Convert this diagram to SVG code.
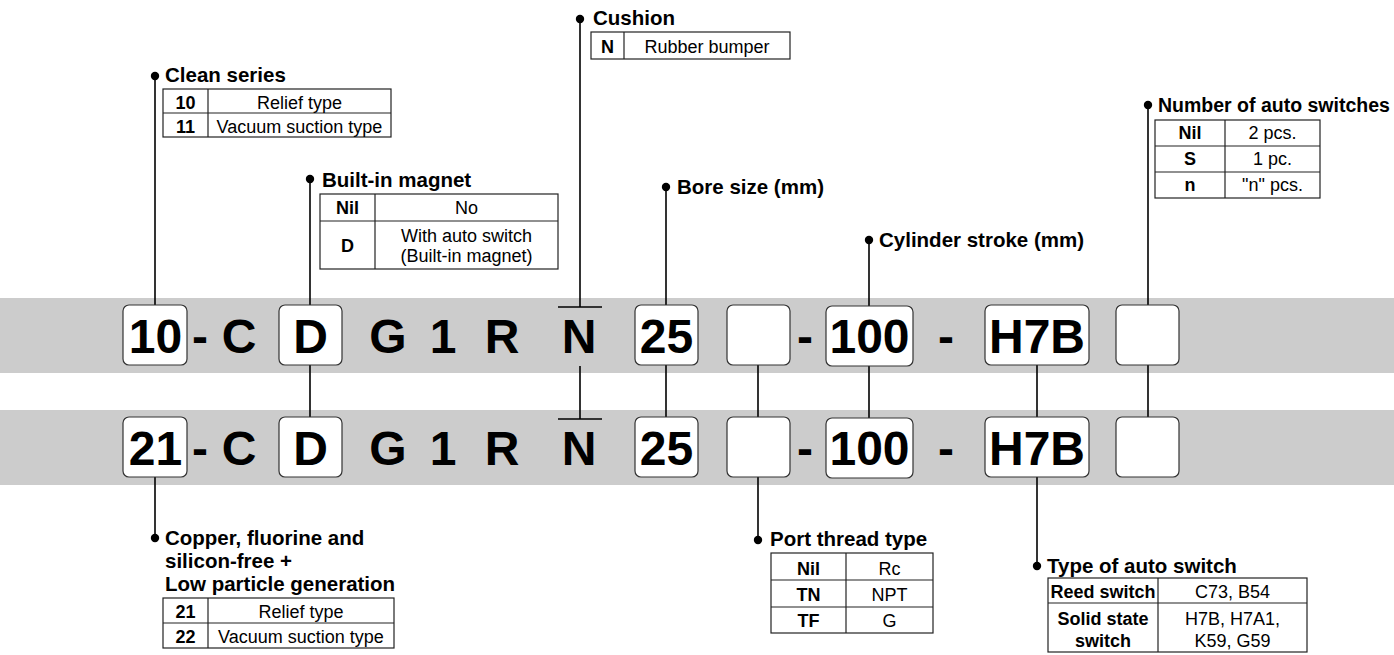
<svg xmlns="http://www.w3.org/2000/svg" width="1394" height="655" viewBox="0 0 1394 655">
<style>
  .band{fill:#cccccc}
  .box{fill:#ffffff;stroke:#333333;stroke-width:1.2}
  .big{font-family:"Liberation Sans",Arial,Helvetica,sans-serif;font-weight:bold;font-size:48px;fill:#000;text-anchor:middle}
  .hd{font-family:"Liberation Sans",Arial,Helvetica,sans-serif;font-weight:bold;font-size:20.5px;fill:#000}
  .tb{font-family:"Liberation Sans",Arial,Helvetica,sans-serif;font-size:18px;fill:#000;text-anchor:middle}
  .tbb{font-family:"Liberation Sans",Arial,Helvetica,sans-serif;font-size:18px;font-weight:bold;fill:#000;text-anchor:middle}
  .tab{fill:#ffffff;stroke:#222222;stroke-width:1.2}
  .tl{stroke:#222222;stroke-width:1.2;fill:none}
  .cn{stroke:#000000;stroke-width:1.6;fill:none}
  .dot{fill:#000000}
</style>

<!-- bands -->
<rect class="band" x="0" y="298" width="1394" height="75"/>
<rect class="band" x="0" y="410" width="1394" height="75"/>

<!-- connectors -->
<g id="connectors">
  <line class="cn" x1="155" y1="76" x2="155" y2="305"/>
  <line class="cn" x1="310" y1="179" x2="310" y2="305"/>
  <line class="cn" x1="580" y1="19" x2="580" y2="307"/>
  <line class="cn" x1="558" y1="307" x2="602" y2="307"/>
  <line class="cn" x1="666" y1="187" x2="666" y2="305"/>
  <line class="cn" x1="869" y1="240" x2="869" y2="306"/>
  <line class="cn" x1="1148" y1="105" x2="1148" y2="305"/>

  <line class="cn" x1="310" y1="365" x2="310" y2="417"/>
  <line class="cn" x1="580" y1="366" x2="580" y2="419"/>
  <line class="cn" x1="558" y1="419" x2="602" y2="419"/>
  <line class="cn" x1="666" y1="365" x2="666" y2="417"/>
  <line class="cn" x1="758" y1="365" x2="758" y2="417"/>
  <line class="cn" x1="869" y1="366" x2="869" y2="418"/>
  <line class="cn" x1="1037" y1="365" x2="1037" y2="417"/>
  <line class="cn" x1="1148" y1="365" x2="1148" y2="417"/>

  <line class="cn" x1="155" y1="477" x2="155" y2="538"/>
  <line class="cn" x1="758" y1="477" x2="758" y2="540"/>
  <line class="cn" x1="1037" y1="477" x2="1037" y2="566"/>

  <circle class="dot" cx="155" cy="76" r="4.2"/>
  <circle class="dot" cx="310" cy="179" r="4.2"/>
  <circle class="dot" cx="580" cy="19" r="4.2"/>
  <circle class="dot" cx="666" cy="187" r="4.2"/>
  <circle class="dot" cx="869" cy="240" r="4.2"/>
  <circle class="dot" cx="1148" cy="105" r="4.2"/>
  <circle class="dot" cx="155" cy="538" r="4.2"/>
  <circle class="dot" cx="758" cy="540" r="4.2"/>
  <circle class="dot" cx="1037" cy="566" r="4.2"/>
</g>

<!-- band 1 -->
<g id="row1">
  <rect class="box" x="123" y="305" width="64" height="60" rx="6"/>
  <rect class="box" x="279" y="305" width="63" height="60" rx="6"/>
  <rect class="box" x="635" y="305" width="63" height="60" rx="6"/>
  <rect class="box" x="727" y="305" width="63" height="60" rx="6"/>
  <rect class="box" x="826" y="306" width="87" height="60" rx="6"/>
  <rect class="box" x="985" y="305" width="104" height="60" rx="6"/>
  <rect class="box" x="1116" y="305" width="63" height="60" rx="6"/>
  <text class="big" x="155.5" y="353">10</text>
  <text class="big" x="200" y="353">-</text>
  <text class="big" x="239" y="353">C</text>
  <text class="big" x="310.5" y="353">D</text>
  <text class="big" x="388" y="353">G</text>
  <text class="big" x="443" y="353">1</text>
  <text class="big" x="502" y="353">R</text>
  <text class="big" x="579" y="353">N</text>
  <text class="big" x="666.5" y="353">25</text>
  <text class="big" x="805" y="353">-</text>
  <text class="big" x="869.5" y="353">100</text>
  <text class="big" x="946" y="353">-</text>
  <text class="big" x="1037" y="353">H7B</text>
</g>

<!-- band 2 -->
<g id="row2">
  <rect class="box" x="123" y="417" width="64" height="60" rx="6"/>
  <rect class="box" x="279" y="417" width="63" height="60" rx="6"/>
  <rect class="box" x="635" y="417" width="63" height="60" rx="6"/>
  <rect class="box" x="727" y="417" width="63" height="60" rx="6"/>
  <rect class="box" x="826" y="418" width="87" height="60" rx="6"/>
  <rect class="box" x="985" y="417" width="104" height="60" rx="6"/>
  <rect class="box" x="1116" y="417" width="63" height="60" rx="6"/>
  <text class="big" x="155.5" y="465">21</text>
  <text class="big" x="200" y="465">-</text>
  <text class="big" x="239" y="465">C</text>
  <text class="big" x="310.5" y="465">D</text>
  <text class="big" x="388" y="465">G</text>
  <text class="big" x="443" y="465">1</text>
  <text class="big" x="502" y="465">R</text>
  <text class="big" x="579" y="465">N</text>
  <text class="big" x="666.5" y="465">25</text>
  <text class="big" x="805" y="465">-</text>
  <text class="big" x="869.5" y="465">100</text>
  <text class="big" x="946" y="465">-</text>
  <text class="big" x="1037" y="465">H7B</text>
</g>

<!-- Clean series -->
<g id="clean-series">
  <text class="hd" x="165" y="82">Clean series</text>
  <rect class="tab" x="163" y="89" width="228" height="48"/>
  <line class="tl" x1="163" y1="113" x2="391" y2="113"/>
  <line class="tl" x1="208" y1="89" x2="208" y2="137"/>
  <text class="tbb" x="185.5" y="109">10</text>
  <text class="tb" x="299.5" y="109">Relief type</text>
  <text class="tbb" x="185.5" y="133">11</text>
  <text class="tb" x="299.5" y="133">Vacuum suction type</text>
</g>

<!-- Cushion -->
<g id="cushion">
  <text class="hd" x="593" y="25">Cushion</text>
  <rect class="tab" x="591" y="32" width="199" height="27"/>
  <line class="tl" x1="624" y1="32" x2="624" y2="59"/>
  <text class="tbb" x="607.5" y="52.5">N</text>
  <text class="tb" x="707" y="52.5">Rubber bumper</text>
</g>

<!-- Built-in magnet -->
<g id="built-in-magnet">
  <text class="hd" x="322" y="187">Built-in magnet</text>
  <rect class="tab" x="320" y="194" width="238" height="75"/>
  <line class="tl" x1="320" y1="221" x2="558" y2="221"/>
  <line class="tl" x1="375" y1="194" x2="375" y2="269"/>
  <text class="tbb" x="347.5" y="213.5">Nil</text>
  <text class="tb" x="466.5" y="213.5">No</text>
  <text class="tbb" x="347.5" y="252">D</text>
  <text class="tb" x="466.5" y="242">With auto switch</text>
  <text class="tb" x="466.5" y="262">(Built-in magnet)</text>
</g>

<!-- Bore size -->
<g id="bore-size">
  <text class="hd" x="677" y="194">Bore size (mm)</text>
</g>

<!-- Cylinder stroke -->
<g id="cylinder-stroke">
  <text class="hd" x="879" y="247">Cylinder stroke (mm)</text>
</g>

<!-- Number of auto switches -->
<g id="number-of-auto-switches">
  <text class="hd" x="1158" y="112" style="font-size:19.5px">Number of auto switches</text>
  <rect class="tab" x="1155" y="120" width="165" height="78"/>
  <line class="tl" x1="1155" y1="146" x2="1320" y2="146"/>
  <line class="tl" x1="1155" y1="172" x2="1320" y2="172"/>
  <line class="tl" x1="1225" y1="120" x2="1225" y2="198"/>
  <text class="tbb" x="1190" y="139">Nil</text>
  <text class="tb" x="1272.5" y="139">2 pcs.</text>
  <text class="tbb" x="1190" y="165">S</text>
  <text class="tb" x="1272.5" y="165">1 pc.</text>
  <text class="tbb" x="1190" y="191">n</text>
  <text class="tb" x="1272.5" y="191">"n" pcs.</text>
</g>

<!-- Copper, fluorine ... -->
<g id="copper-free">
  <text class="hd" x="165" y="545">Copper, fluorine and</text>
  <text class="hd" x="165" y="568">silicon-free +</text>
  <text class="hd" x="165" y="591">Low particle generation</text>
  <rect class="tab" x="163" y="598" width="231" height="50"/>
  <line class="tl" x1="163" y1="623" x2="394" y2="623"/>
  <line class="tl" x1="208" y1="598" x2="208" y2="648"/>
  <text class="tbb" x="185.5" y="618">21</text>
  <text class="tb" x="301" y="618">Relief type</text>
  <text class="tbb" x="185.5" y="643">22</text>
  <text class="tb" x="301" y="643">Vacuum suction type</text>
</g>

<!-- Port thread type -->
<g id="port-thread-type">
  <text class="hd" x="770" y="546">Port thread type</text>
  <rect class="tab" x="771" y="553" width="162" height="80"/>
  <line class="tl" x1="771" y1="580" x2="933" y2="580"/>
  <line class="tl" x1="771" y1="607" x2="933" y2="607"/>
  <line class="tl" x1="846" y1="553" x2="846" y2="633"/>
  <text class="tbb" x="808.5" y="574.5">Nil</text>
  <text class="tb" x="889.5" y="574.5">Rc</text>
  <text class="tbb" x="808.5" y="601">TN</text>
  <text class="tb" x="889.5" y="601">NPT</text>
  <text class="tbb" x="808.5" y="627">TF</text>
  <text class="tb" x="889.5" y="627">G</text>
</g>

<!-- Type of auto switch -->
<g id="type-of-auto-switch">
  <text class="hd" x="1047" y="573">Type of auto switch</text>
  <rect class="tab" x="1048" y="578" width="259" height="74"/>
  <line class="tl" x1="1048" y1="603" x2="1307" y2="603"/>
  <line class="tl" x1="1158" y1="578" x2="1158" y2="652"/>
  <text class="tbb" x="1103" y="598">Reed switch</text>
  <text class="tb" x="1232.5" y="598">C73, B54</text>
  <text class="tbb" x="1103" y="625">Solid state</text>
  <text class="tbb" x="1103" y="647">switch</text>
  <text class="tb" x="1232.5" y="625">H7B, H7A1,</text>
  <text class="tb" x="1232.5" y="647">K59, G59</text>
</g>
</svg>
